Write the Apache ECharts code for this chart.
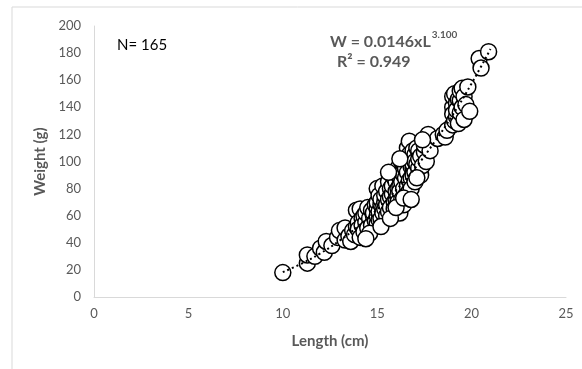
<!DOCTYPE html>
<html>
<head>
<meta charset="utf-8">
<script src="https://cdn.jsdelivr.net/npm/echarts@6/dist/echarts.min.js"></script>
<style>
  html, body { margin: 0; padding: 0; background: #fff; }
  #chart { width: 582px; height: 369px; }
</style>
</head>
<body>
<div id="chart"></div>
<script>
// observed fish (length cm, weight g)
const lengthCm = [
  10.0, 11.3, 11.3, 11.7, 12.0, 12.2, 12.3, 12.6, 12.9, 13.0,
  13.3, 13.3, 13.5, 13.6, 13.7, 13.8, 13.9, 13.9, 14.0, 14.0,
  14.1, 14.1, 14.2, 14.2, 14.3, 14.3, 14.4, 14.4, 14.5, 14.5,
  14.6, 14.7, 14.7, 14.8, 14.8, 14.9, 14.9, 15.0, 15.0, 15.0,
  15.0, 15.0, 15.1, 15.1, 15.1, 15.2, 15.2, 15.2, 15.3, 15.3,
  15.3, 15.4, 15.4, 15.4, 15.5, 15.5, 15.5, 15.6, 15.6, 15.6,
  15.7, 15.7, 15.7, 15.8, 15.8, 15.8, 15.9, 15.9, 15.9, 16.0,
  16.0, 16.0, 16.0, 16.1, 16.1, 16.1, 16.1, 16.2, 16.2, 16.2,
  16.2, 16.3, 16.3, 16.3, 16.3, 16.4, 16.4, 16.4, 16.4, 16.5,
  16.5, 16.5, 16.5, 16.6, 16.6, 16.6, 16.6, 16.7, 16.7, 16.7,
  16.7, 16.8, 16.8, 16.8, 16.8, 16.9, 16.9, 16.9, 16.9, 17.0,
  17.0, 17.0, 17.0, 17.1, 17.1, 17.2, 17.2, 17.2, 17.3, 17.3,
  17.4, 17.5, 17.5, 17.6, 17.7, 17.8, 18.2, 18.5, 18.6, 18.7,
  19.0, 19.0, 19.0, 19.0, 19.1, 19.1, 19.2, 19.2, 19.2, 19.3,
  19.3, 19.4, 19.4, 19.4, 19.5, 19.5, 19.6, 19.6, 19.7, 19.8,
  19.9, 20.4, 20.5, 20.9, 14.6, 15.2, 15.7, 16.0, 16.4, 16.8,
  17.1, 15.6, 16.2, 14.4, 17.4
];
const weightG = [
  18, 25, 31, 30, 36, 33, 41, 38, 44, 49,
  42, 51, 45, 41, 49, 46, 52, 64, 55, 50,
  44, 65, 58, 53, 60, 48, 55, 62, 51, 66,
  58, 53, 64, 60, 62, 56, 68, 54, 65, 60,
  70, 80, 57, 75, 63, 68, 72, 58, 66, 82,
  62, 70, 65, 75, 60, 78, 68, 85, 72, 63,
  80, 74, 66, 90, 76, 82, 70, 88, 65, 93,
  78, 72, 85, 80, 75, 95, 70, 62, 88, 82,
  78, 100, 72, 92, 85, 68, 98, 90, 80, 104,
  75, 88, 95, 110, 82, 100, 92, 115, 86, 78,
  105, 96, 102, 88, 80, 95, 108, 98, 90, 105,
  100, 92, 85, 110, 98, 108, 95, 102, 90, 104,
  97, 107, 112, 100, 120, 108, 117, 120, 118, 123,
  140, 148, 127, 135, 150, 130, 133, 143, 138, 146,
  128, 136, 145, 152, 154, 140, 131, 148, 142, 155,
  137, 176, 169, 181, 47, 52, 58, 66, 73, 72,
  88, 92, 102, 43, 116
];

// power trendline
const trendL = [10, 11, 12, 13, 14, 15, 16, 17, 18, 19, 20, 21];
const trendW = [18.4, 24.7, 32.3, 41.5, 52.2, 64.6, 78.9, 95, 113.7, 134.4, 157.6, 183];

const xTicks = [0, 25, 5];   // min, max, interval
const yTicks = [0, 200, 20];

const points = lengthCm.map((l, i) => [l, weightG[i]]);
const trend = trendL.map((l, i) => [l, trendW[i]]);

const chart = echarts.init(document.getElementById('chart'));
const gray = '#595959';
const font = 'Lato, "Open Sans", sans-serif';

chart.setOption({
  animation: false,
  backgroundColor: '#fff',
  textStyle: { fontFamily: font },
  grid: { left: 94, right: 16, top: 26, bottom: 72 },
  xAxis: {
    type: 'value',
    min: xTicks[0], max: xTicks[1], interval: xTicks[2],
    name: 'Length (cm)',
    nameLocation: 'middle',
    nameGap: 37,
    nameTextStyle: { color: gray, fontSize: 15, fontWeight: 'bold', fontFamily: font },
    axisLine: { lineStyle: { color: '#d9d9d9', width: 1 } },
    axisTick: { show: false },
    splitLine: { show: false },
    axisLabel: { color: gray, fontSize: 13, margin: 10, fontFamily: font }
  },
  yAxis: {
    type: 'value',
    min: yTicks[0], max: yTicks[1], interval: yTicks[2],
    name: 'Weight (g)',
    nameLocation: 'middle',
    nameGap: 46,
    nameRotate: 90,
    nameTextStyle: { color: gray, fontSize: 15, fontWeight: 'bold', fontFamily: font },
    axisLine: { show: true, lineStyle: { color: '#d9d9d9', width: 1 } },
    axisTick: { show: false },
    splitLine: { show: false },
    axisLabel: { color: gray, fontSize: 13, margin: 13, fontFamily: font }
  },
  series: [
    {
      type: 'scatter',
      data: points,
      symbol: 'circle',
      symbolSize: 16,
      itemStyle: { color: '#fff', borderColor: '#000', borderWidth: 1.5, opacity: 1 },
      z: 2
    },
    {
      type: 'line',
      data: trend,
      smooth: true,
      showSymbol: false,
      lineStyle: { color: '#000', width: 2, type: [2, 3] },
      z: 3
    }
  ],
  graphic: [
    {
      type: 'rect',
      shape: { x: 12, y: 7, width: 620, height: 420 },
      style: { fill: 'none', stroke: '#d9d9d9', lineWidth: 1 },
      silent: true
    },
    {
      type: 'text', left: 117, top: 38,
      style: { text: 'N= 165', fill: '#000', font: '15px ' + font }
    },
    {
      type: 'text', left: 330, top: 30,
      style: {
        text: '{b|W = 0.0146xL}{s|3.100}',
        rich: {
          b: { fontSize: 16, fontWeight: 'bold', fill: gray, fontFamily: font, lineHeight: 20, verticalAlign: 'bottom' },
          s: { fontSize: 10, fontWeight: 'bold', fill: gray, fontFamily: font, lineHeight: 20, verticalAlign: 'top', padding: [0, 0, 6, 1] }
        }
      }
    },
    {
      type: 'text', left: 337, top: 54,
      style: { text: 'R² = 0.949', fill: gray, font: 'bold 16px ' + font }
    }
  ]
});
</script>
</body>
</html>
